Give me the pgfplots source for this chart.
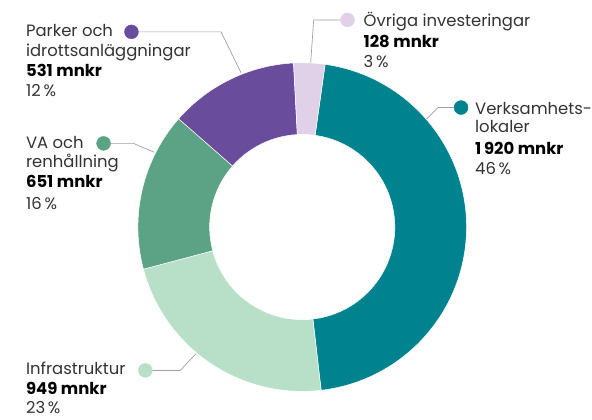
\documentclass[border=0pt]{standalone}
\usepackage{pgfplots}
\pgfplotsset{compat=1.18}
\usepackage{pgfplotstable}
\usepackage{fontspec}
\setmainfont{Poppins}
\definecolor{cVerk}{HTML}{00838F}
\definecolor{cInfra}{HTML}{B8E0C8}
\definecolor{cVA}{HTML}{5BA384}
\definecolor{cPark}{HTML}{6A4C9C}
\definecolor{cOvr}{HTML}{E0D0E8}
\definecolor{cText}{HTML}{333333}
\definecolor{cLead}{HTML}{A0A0A0}

\pgfplotstableread[col sep=comma]{
key,value
Verksamhetslokaler,1920
Infrastruktur,949
VA,651
Parker,531
Ovriga,128
}\investdata

\pgfplotstablegetelem{0}{value}\of\investdata \let\vA\pgfplotsretval
\pgfplotstablegetelem{1}{value}\of\investdata \let\vB\pgfplotsretval
\pgfplotstablegetelem{2}{value}\of\investdata \let\vC\pgfplotsretval
\pgfplotstablegetelem{3}{value}\of\investdata \let\vD\pgfplotsretval
\pgfplotstablegetelem{4}{value}\of\investdata \let\vE\pgfplotsretval
\pgfmathsetmacro\tot{\vA+\vB+\vC+\vD+\vE}
\pgfmathsetmacro\aA{82}
\pgfmathsetmacro\aB{\aA-\vA/\tot*360}
\pgfmathsetmacro\aC{\aB-\vB/\tot*360}
\pgfmathsetmacro\aD{\aC-\vC/\tot*360}
\pgfmathsetmacro\aE{\aD-\vD/\tot*360}
\pgfmathsetmacro\aF{\aE-\vE/\tot*360}
\def\cx{303.5}
\def\cy{193}
\def\R{165}
\def\ri{93}
\newcommand{\slice}[3]{%
  \fill[#3, draw=white, line width=0.5pt]
    ({\cx+\R*cos(#1)},{\cy+\R*sin(#1)}) arc[start angle=#1, end angle=#2, radius=\R]
    -- ({\cx+\ri*cos(#2)},{\cy+\ri*sin(#2)}) arc[start angle=#2, end angle=#1, radius=\ri] -- cycle;}
\tikzset{lbl/.style={anchor=base west, inner sep=0pt, text=cText, font=\fontsize{16.5}{19}\selectfont},
         lblb/.style={lbl, text=black, font=\fontsize{16.5}{19}\selectfont\bfseries}}

\begin{document}
\begin{tikzpicture}
\begin{axis}[
  x=1pt, y=1pt,
  xmin=0, xmax=592, ymin=0, ymax=421,
  hide axis, clip=false,
]
\path (axis cs:0,0) rectangle (axis cs:592,421);
% leader lines
\draw[cLead, line width=0.7pt] (132,389) -- (222,389) -- (242,348);
\draw[cLead, line width=0.7pt] (104,277) -- (134,277) -- (155,268);
\draw[cLead, line width=0.7pt] (349,401) -- (315,401) -- (312,358);
\draw[cLead, line width=0.7pt] (463,313) -- (440,313) -- (428,301);
\draw[cLead, line width=0.7pt] (146,49) -- (181,49) -- (197,66);
% donut
\slice{\aA}{\aB}{cVerk}
\slice{\aB}{\aC}{cInfra}
\slice{\aC}{\aD}{cVA}
\slice{\aD}{\aE}{cPark}
\slice{\aE}{\aF}{cOvr}
% marker dots
\addplot[only marks, mark=*, mark size=7pt, color=cPark] coordinates {(132,389)};
\addplot[only marks, mark=*, mark size=7pt, color=cVA] coordinates {(104,277)};
\addplot[only marks, mark=*, mark size=7pt, color=cOvr] coordinates {(349,401)};
\addplot[only marks, mark=*, mark size=7pt, color=cVerk] coordinates {(463,313)};
\addplot[only marks, mark=*, mark size=7pt, color=cInfra] coordinates {(146,49)};
% labels
\node[lbl] at (26,384) {Parker och};
\node[lbl] at (26,364) {idrottsanläggningar};
\node[lblb] at (26,344) {531 mnkr};
\node[lbl] at (26,324) {12\,\%};
\node[lbl] at (26,272) {VA och};
\node[lbl] at (26,253) {renhållning};
\node[lblb] at (26,233) {651 mnkr};
\node[lbl] at (26,211) {16\,\%};
\node[lbl] at (365,394) {Övriga investeringar};
\node[lblb] at (365,373) {128 mnkr};
\node[lbl] at (365,353) {3\,\%};
\node[lbl] at (477,306) {Verksamhets-};
\node[lbl] at (477,288) {lokaler};
\node[lblb] at (477,266) {1\,920 mnkr};
\node[lbl] at (477,246) {46\,\%};
\node[lbl] at (26,45) {Infrastruktur};
\node[lblb] at (26,25) {949 mnkr};
\node[lbl] at (26,6) {23\,\%};
\end{axis}
\end{tikzpicture}
\end{document}
